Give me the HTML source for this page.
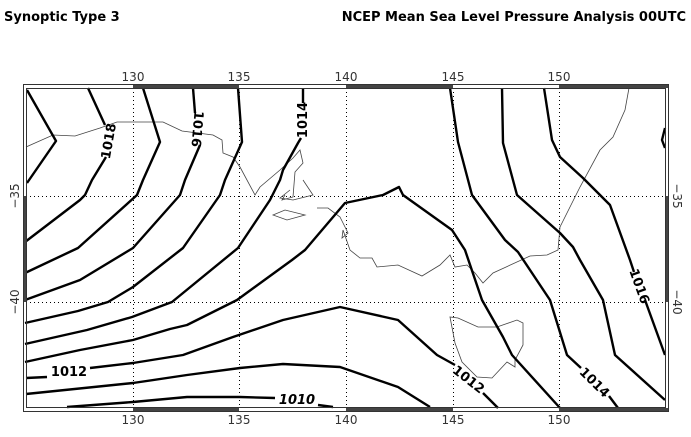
<!DOCTYPE html>
<html><head><meta charset="utf-8"><style>
html,body{margin:0;padding:0;background:#fff;}
svg{display:block;}
text{font-family:"DejaVu Sans","Liberation Sans",sans-serif;}
</style></head><body>
<svg width="691" height="437" viewBox="0 0 691 437" xmlns="http://www.w3.org/2000/svg">
<rect width="691" height="437" fill="#fff"/>
<text x="4" y="21" font-size="13" font-weight="bold" fill="#000">Synoptic Type 3</text>
<text x="686" y="21" font-size="13" font-weight="bold" fill="#000" text-anchor="end">NCEP Mean Sea Level Pressure Analysis 00UTC</text>

<!-- grid -->
<g stroke="#000" stroke-width="1" stroke-dasharray="1,3" fill="none">
<path d="M133.5 88V408M239.5 88V408M346.5 88V408M453.5 88V408M559.5 88V408M26 196.5H666M26 302.5H666"/>
</g>

<!-- coastlines -->
<g stroke="#444" stroke-width="0.8" fill="none">
<polyline points="26,147 53,135 75,136 100,128 117,122 163,122 182,131 213,135 222,140 223,153 233,157 240,167 255,195 260,187 280,170 293,158 300,150 303,163 295,172 293,197 282,200 285,195"/>
<polyline points="303,180 313,195 293,200 280,198 290,190"/>
<polygon points="273,215 285,210 305,215 287,220"/>
<polyline points="317,208 328,208 340,217 348,233 342,238 343,230 350,250 360,258 372,258 377,267 398,265 422,276 440,265 450,255 455,267 467,265 475,273 483,283 493,273 530,256 547,255 558,250 560,227 580,187 600,150 613,137 625,110 629,88"/>
<polygon points="450,317 455,343 462,362 477,377 492,378 507,362 515,367 515,360 523,345 523,323 517,320 497,327 478,327 458,318"/>
</g>

<!-- contours -->
<g stroke="#000" stroke-width="2.4" fill="none" stroke-linejoin="round">
<polyline points="27,90 56,141 27,183"/>
<polyline points="88,88 105,125"/>
<polyline points="106,157 92,180 85,195 80,200 25,242"/>
<polyline points="143,88 160,142 143,180 137,195 78,248 25,273"/>
<polyline points="193,88 195,113"/>
<polyline points="200,145 185,180 180,195 133,248 80,280 25,300"/>
<polyline points="238,88 242,142 225,180 220,195 183,248 133,287 108,302 78,311 25,323"/>
<polyline points="303,88 303,103"/>
<polyline points="301,138 298,143 283,170 280,180 270,200 238,248 172,302 132,317 87,330 25,344"/>
<polyline points="25,362 80,350 133,340 170,329 187,325 237,300 292,260 305,250 345,203 383,195 399,187 403,195 452,230 465,250 482,300 503,337 512,355 560,408"/>
<polyline points="26,378 47,377"/>
<polyline points="90,368 133,363 183,355 233,337 283,320 340,307 398,320 437,355 455,365"/>
<polyline points="483,393 498,408"/>
<polyline points="26,394 133,383 187,375 240,368 283,364 340,367 398,387 430,407"/>
<polyline points="67,407 133,402 187,397 240,397 275,398"/>
<polyline points="318,405 333,407"/>
<polyline points="450,88 458,142 472,195 505,240 518,252 550,300 567,355 581,368"/>
<polyline points="609,396 618,408"/>
<polyline points="502,88 503,143 517,195 560,233 573,247 580,260 603,300 615,355 665,400"/>
<polyline points="544,88 552,140 560,157 583,178 610,205 630,260 634,272"/>
<polyline points="645,300 665,355"/>
<polyline points="665,128 662,140 665,148"/>
</g>

<!-- contour labels -->
<g font-size="13" font-weight="bold" fill="#000" text-anchor="middle">
<text transform="translate(108,141) rotate(-80)" dy="5">1018</text>
<text transform="translate(198,129) rotate(95)" dy="5">1016</text>
<text transform="translate(302,120) rotate(-90)" dy="5">1014</text>
<text x="69" y="376" dy="0">1012</text>
<text transform="translate(469,379) rotate(38)" dy="5">1012</text>
<text x="297" y="404" font-style="italic">1010</text>
<text transform="translate(595,382) rotate(45)" dy="5">1014</text>
<text transform="translate(640,286) rotate(70)" dy="5">1016</text>
</g>

<!-- frame -->
<g fill="#444">
<rect x="133" y="84" width="106" height="4"/>
<rect x="346" y="84" width="107" height="4"/>
<rect x="559" y="84" width="110" height="4"/>
<rect x="133" y="408" width="106" height="4"/>
<rect x="346" y="408" width="107" height="4"/>
<rect x="559" y="408" width="110" height="4"/>
<rect x="23" y="196" width="3" height="106"/>
<rect x="666" y="196" width="3" height="106"/>
</g>
<rect x="23.5" y="84.5" width="645" height="327" fill="none" stroke="#333" stroke-width="1"/>
<rect x="26.5" y="88.5" width="639" height="319" fill="none" stroke="#333" stroke-width="1"/>

<!-- tick labels -->
<g font-size="12" fill="#333" text-anchor="middle">
<text x="133" y="81">130</text>
<text x="239" y="81">135</text>
<text x="346" y="81">140</text>
<text x="453" y="81">145</text>
<text x="559" y="81">150</text>
<text x="133" y="424">130</text>
<text x="239" y="424">135</text>
<text x="346" y="424">140</text>
<text x="453" y="424">145</text>
<text x="559" y="424">150</text>
<text transform="translate(19,196) rotate(-90)">−35</text>
<text transform="translate(19,302) rotate(-90)">−40</text>
<text transform="translate(673,196) rotate(90)">−35</text>
<text transform="translate(673,302) rotate(90)">−40</text>
</g>
</svg>
</body></html>
